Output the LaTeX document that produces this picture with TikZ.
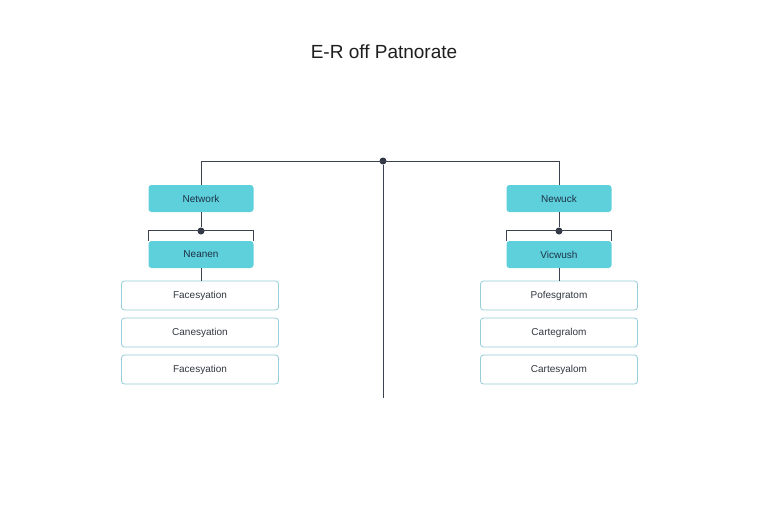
\documentclass[tikz,border=0pt]{standalone}
\usepackage{fontspec}
\setmainfont{Liberation Sans}
\begin{document}
\begin{tikzpicture}[x=1pt,y=-1pt,
  teal/.style={draw=none,fill={rgb,255:red,94;green,208;blue,220},rounded corners=3pt,minimum width=105pt,minimum height=27pt,font=\fontsize{10}{12}\selectfont,text={rgb,255:red,30;green,50;blue,70}},
  attr/.style={draw={rgb,255:red,150;green,205;blue,218},line width=0.8pt,fill=white,rounded corners=3pt,minimum width=157pt,minimum height=29pt,font=\fontsize{10}{12}\selectfont,text={rgb,255:red,50;green,55;blue,65}},
  ln/.style={draw={rgb,255:red,60;green,65;blue,80},line width=1pt},
  dotn/.style={circle,fill={rgb,255:red,50;green,55;blue,70},inner sep=0pt,minimum size=7pt}]
\useasboundingbox (0,0) rectangle (768,512);
\fill[white] (0,0) rectangle (768,512);
\node[font=\fontsize{19}{22}\selectfont,text={rgb,255:red,30;green,30;blue,30}] (title) at (384,52) {E-R off Patnorate};
% left
\node[teal] (l1) at (201,198.5) {Network};
\node[teal] (l2) at (201,254.5) {Neanen};
\node[attr] (la) at (200,295.5) {Facesyation};
\node[attr] (lb) at (200,332.5) {Canesyation};
\node[attr] (lc) at (200,369.5) {Facesyation};
% right
\node[teal] (r1) at (559,198.5) {Newuck};
\node[teal] (r2) at (559,254.5) {Vicwush};
\node[attr] (ra) at (559,295.5) {Pofesgratom};
\node[attr] (rb) at (559,332.5) {Cartegralom};
\node[attr] (rc) at (559,369.5) {Cartesyalom};
% connectors
\node[dotn] (top) at (383,161) {};
\coordinate (bot) at (383,398);
\coordinate (tl) at (201,161);
\coordinate (tr) at (559,161);
\draw[ln] (l1.north) -- (tl) -- (tr) -- (r1.north);
\draw[ln] (top) -- (bot);
\node[dotn] (ld) at (201,231) {};
\node[dotn] (rd) at (559,231) {};
\draw[ln] (l1.south) -- (ld);
\draw[ln] (r1.south) -- (rd);
\draw[ln] (l2.north west) -- ++(0,-10) -- ++(105,0) -- ++(0,10);
\draw[ln] (r2.north west) -- ++(0,-10) -- ++(105,0) -- ++(0,10);
\draw[ln] (l2.south) -- (l2.south |- la.north);
\draw[ln] (r2.south) -- (ra.north);
\end{tikzpicture}
\end{document}
